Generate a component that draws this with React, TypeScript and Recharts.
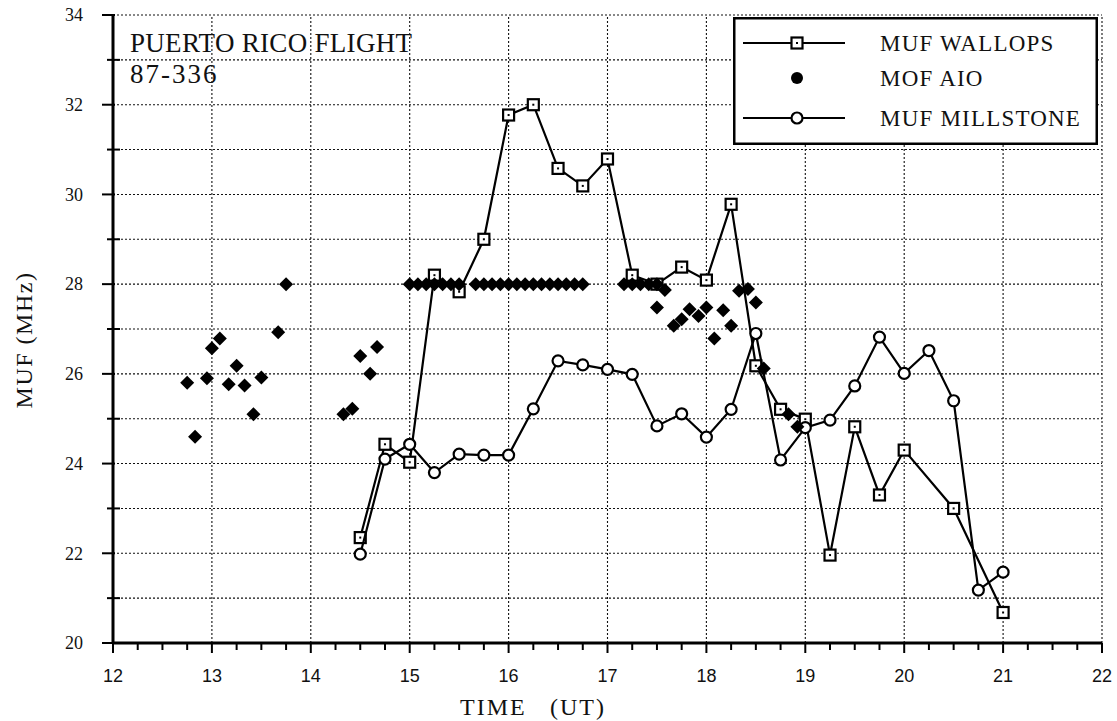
import {
  ComposedChart,
  Scatter,
  XAxis,
  YAxis,
  CartesianGrid,
  ReferenceLine,
  Legend,
  Customized,
} from "recharts";

// MUF Wallops (squares, joined)
const wallopsTime = [
  14.5, 14.75, 15.0, 15.25, 15.5, 15.75, 16.0, 16.25, 16.5, 16.75, 17.0, 17.25,
  17.5, 17.75, 18.0, 18.25, 18.5, 18.75, 19.0, 19.25, 19.5, 19.75, 20.0, 20.5,
  21.0,
];
const wallopsMuf = [
  22.35, 24.43, 24.03, 28.2, 27.83, 29.0, 31.77, 32.0, 30.58, 30.19, 30.79, 28.2,
  28.0, 28.38, 28.09, 29.78, 26.18, 25.21, 24.99, 21.96, 24.82, 23.3, 24.3, 23.0,
  20.68,
];

// MUF Millstone (open circles, joined)
const millstoneTime = [
  14.5, 14.75, 15.0, 15.25, 15.5, 15.75, 16.0, 16.25, 16.5, 16.75, 17.0, 17.25,
  17.5, 17.75, 18.0, 18.25, 18.5, 18.75, 19.0, 19.25, 19.5, 19.75, 20.0, 20.25,
  20.5, 20.75, 21.0,
];
const millstoneMuf = [
  21.98, 24.1, 24.43, 23.8, 24.21, 24.19, 24.19, 25.22, 26.29, 26.2, 26.1, 25.99,
  24.84, 25.11, 24.59, 25.21, 26.9, 24.08, 24.8, 24.97, 25.73, 26.82, 26.01,
  26.52, 25.4, 21.18, 21.58,
];

// MOF AIO (filled diamonds, no line)
const mofTime = [
  12.75, 12.83, 12.95, 13.0, 13.08, 13.17, 13.25, 13.33, 13.42, 13.5, 13.67,
  13.75, 14.33, 14.42, 14.5, 14.6, 14.67,
  15.0, 15.083, 15.167, 15.25, 15.333, 15.417, 15.5,
  15.667, 15.75, 15.833, 15.917, 16.0, 16.083, 16.167, 16.25, 16.333, 16.417,
  16.5, 16.583, 16.667, 16.75,
  17.167, 17.25, 17.333, 17.417, 17.5,
  17.58, 17.5, 17.67, 17.75, 17.83, 17.92, 18.0, 18.08, 18.17, 18.25, 18.33,
  18.42, 18.5, 18.58, 18.83, 18.92,
];
const mofMhz = [
  25.8, 24.6, 25.9, 26.57, 26.79, 25.77, 26.18, 25.74, 25.1, 25.92, 26.93,
  28.0, 25.1, 25.22, 26.4, 26.0, 26.6,
  28.0, 28.0, 28.0, 28.0, 28.0, 28.0, 28.0,
  28.0, 28.0, 28.0, 28.0, 28.0, 28.0, 28.0, 28.0, 28.0, 28.0,
  28.0, 28.0, 28.0, 28.0,
  28.0, 28.0, 28.0, 28.0, 28.0,
  27.87, 27.48, 27.07, 27.22, 27.44, 27.29, 27.48, 26.79, 27.42, 27.07, 27.85,
  27.89, 27.59, 26.12, 25.1, 24.82,
];

const yTicks = [20, 21, 22, 23, 24, 25, 26, 27, 28, 29, 30, 31, 32, 33, 34];
const gridHours = [13, 14, 15, 16, 17, 18, 19, 20, 21, 22];
const xTicks = [
  12, 12.25, 12.5, 12.75, 13, 13.25, 13.5, 13.75, 14, 14.25, 14.5, 14.75, 15,
  15.25, 15.5, 15.75, 16, 16.25, 16.5, 16.75, 17, 17.25, 17.5, 17.75, 18, 18.25,
  18.5, 18.75, 19, 19.25, 19.5, 19.75, 20, 20.25, 20.5, 20.75, 21, 21.25, 21.5,
  21.75, 22,
];

const zip = (t: number[], v: number[]) => t.map((x, i) => ({ x, y: v[i] }));
const wallops = zip(wallopsTime, wallopsMuf);
const millstone = zip(millstoneTime, millstoneMuf);
const mof = zip(mofTime, mofMhz);

const SERIF = "'Liberation Serif', 'Times New Roman', serif";
const SANS = "'Liberation Sans', Arial, sans-serif";
const GRID = { stroke: "#111", strokeWidth: 1.1, strokeDasharray: "2 2" };

function SquareMark({ cx, cy }: any) {
  if (cx == null || cy == null) return null;
  return (
    <g>
      <rect x={cx - 5.5} y={cy - 5.5} width={11} height={11} fill="#fff" stroke="#000" strokeWidth={2.2} />
      <rect x={cx - 1} y={cy - 1} width={2} height={2} fill="#000" />
    </g>
  );
}

function CircleMark({ cx, cy }: any) {
  if (cx == null || cy == null) return null;
  return <circle cx={cx} cy={cy} r={5.5} fill="#fff" stroke="#000" strokeWidth={2.2} />;
}

function DiamondMark({ cx, cy }: any) {
  if (cx == null || cy == null) return null;
  const r = 7;
  return (
    <polygon
      points={`${cx},${cy - r} ${cx + r},${cy} ${cx},${cy + r} ${cx - r},${cy}`}
      fill="#000"
    />
  );
}

function YTick({ x, y, payload }: any) {
  const v = payload.value;
  const major = v % 2 === 0;
  return (
    <g>
      {major ? (
        <line x1={x - 11} x2={x + 2} y1={y} y2={y} stroke="#000" strokeWidth={2} />
      ) : (
        <line x1={x - 6} x2={x + 7} y1={y} y2={y} stroke="#000" strokeWidth={2} />
      )}
      {major && (
        <text x={x - 30} y={y} dy="0.35em" textAnchor="end" fontFamily={SERIF} fontSize={18} fill="#111">
          {v}
        </text>
      )}
    </g>
  );
}

function XTick({ x, y, payload }: any) {
  const v = payload.value;
  const major = Number.isInteger(v);
  return (
    <g>
      <line x1={x} x2={x} y1={y} y2={y + (major ? 10 : 7)} stroke="#000" strokeWidth={2} />
      {major && (
        <text x={x} y={y + 39} textAnchor="middle" fontFamily={SANS} fontSize={18} fill="#111">
          {v}
        </text>
      )}
    </g>
  );
}

function LegendBox() {
  const rows = [
    { y: 26, label: "MUF WALLOPS", kind: "square" },
    { y: 61, label: "MOF AIO", kind: "dot" },
    { y: 101, label: "MUF MILLSTONE", kind: "circle" },
  ];
  return (
    <svg width={365} height={128} style={{ display: "block" }}>
      <rect x={1.25} y={1.25} width={362.5} height={125.5} fill="#fff" stroke="#000" strokeWidth={2.5} />
      {rows.map((r) => (
        <g key={r.label}>
          {r.kind !== "dot" && (
            <line x1={10} x2={112} y1={r.y} y2={r.y} stroke="#000" strokeWidth={2} />
          )}
          {r.kind === "square" && <SquareMark cx={64} cy={r.y} />}
          {r.kind === "circle" && <CircleMark cx={64} cy={r.y} />}
          {r.kind === "dot" && <circle cx={64} cy={r.y} r={6} fill="#000" />}
          <text x={147} y={r.y + 8} fontFamily={SERIF} fontSize={23} letterSpacing={1.2} fill="#111">
            {r.label}
          </text>
        </g>
      ))}
    </svg>
  );
}

function Annotations() {
  return (
    <g>
      <text x={130} y={52} fontFamily={SERIF} fontSize={27} letterSpacing={0.3} fill="#111">
        PUERTO RICO FLIGHT
      </text>
      <text x={130} y={83} fontFamily={SERIF} fontSize={27} letterSpacing={2} fill="#111">
        87-336
      </text>
      <text
        x={32}
        y={340}
        transform="rotate(-90 32 340)"
        textAnchor="middle"
        fontFamily={SERIF}
        fontSize={24}
        letterSpacing={1.5}
        fill="#111"
      >
        MUF (MHz)
      </text>
      <text y={715} fontFamily={SERIF} fontSize={24} letterSpacing={2} fill="#111">
        <tspan x={460}>TIME</tspan>
        <tspan x={550}>(UT)</tspan>
      </text>
    </g>
  );
}

export default function App() {
  return (
    <div style={{ position: "absolute", left: 0, top: 0, width: 1117, height: 721, background: "#fff" }}>
      <ComposedChart width={1117} height={721} margin={{ top: 15, right: 15, bottom: 0, left: 0 }}>
        <CartesianGrid {...GRID} vertical={false} />
        {gridHours.map((h) => (
          <ReferenceLine key={h} x={h} {...GRID} />
        ))}
        <XAxis
          type="number"
          dataKey="x"
          domain={[12, 22]}
          ticks={xTicks}
          interval={0}
          height={78}
          tickSize={0}
          tickMargin={0}
          tick={<XTick />}
          axisLine={{ stroke: "#000", strokeWidth: 3 }}
          tickLine={false}
        />
        <YAxis
          type="number"
          dataKey="y"
          domain={[20, 34]}
          ticks={yTicks}
          interval={0}
          width={113}
          tickSize={0}
          tickMargin={0}
          tick={<YTick />}
          axisLine={{ stroke: "#000", strokeWidth: 3 }}
          tickLine={false}
        />
        <Scatter
          name="MUF WALLOPS"
          data={wallops}
          line={{ stroke: "#000", strokeWidth: 2.2 }}
          shape={<SquareMark />}
          isAnimationActive={false}
        />
        <Scatter
          name="MUF MILLSTONE"
          data={millstone}
          line={{ stroke: "#000", strokeWidth: 2.2 }}
          shape={<CircleMark />}
          isAnimationActive={false}
        />
        <Scatter name="MOF AIO" data={mof} shape={<DiamondMark />} isAnimationActive={false} />
        <Legend
          layout="horizontal"
          verticalAlign="middle"
          align="center"
          content={() => <LegendBox />}
          wrapperStyle={{ left: 733, top: 17, width: 365, height: 128 }}
        />
        <Customized component={Annotations} />
      </ComposedChart>
    </div>
  );
}
